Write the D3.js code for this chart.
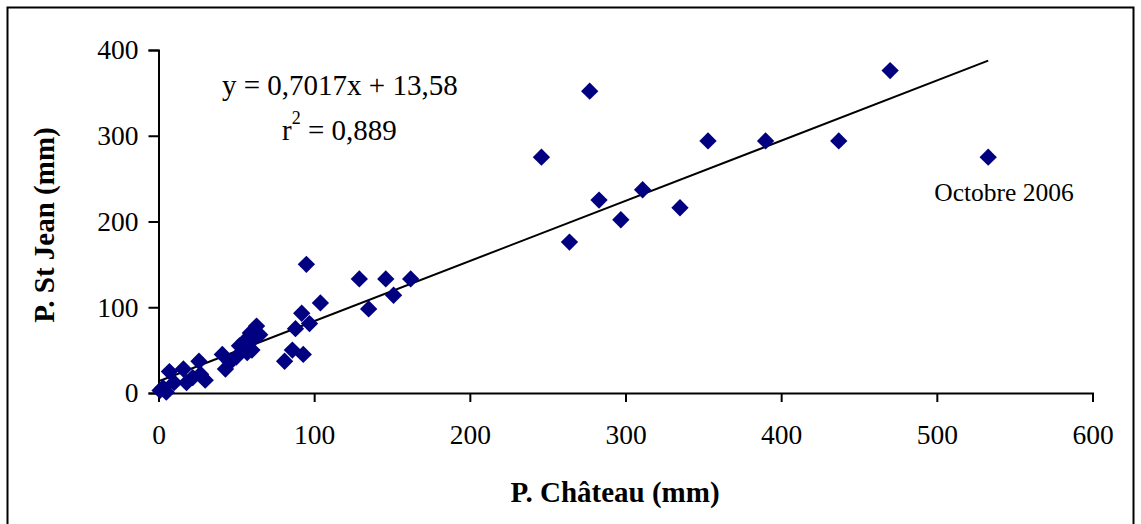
<!DOCTYPE html>
<html><head><meta charset="utf-8">
<script src="https://cdn.jsdelivr.net/npm/d3@7"></script>
<style>body{margin:0;background:#fff}svg{display:block}text{font-family:"Liberation Serif","Times New Roman",serif}</style>
</head><body>
<script>
const pChateau = [1,3,5,7,10,16,18,22,26,27,30,41,43,46,50,52,55,57,59,60,62,63,65,81,86,88,92,93,95,97,104,129,135,146,151,162,246,264,277,283,297,311,335,353,390,437,470,533];
const pStJean  = [3,6,1,25,12,28,12,18,37,22,15,45,28,36,42,55,60,47,70,50,65,78,68,37,50,75,93,45,150,81,105,133,98,133,114,133,275,176,352,225,202,237,216,294,294,294,376,275];
const xTicks = [0,100,200,300,400,500,600];
const yTicks = [0,100,200,300,400];
const slope = 0.7017, intercept = 13.58;
const eqLabel = "y = 0,7017x + 13,58";
const r2Value = "= 0,889";
const noteLabel = "Octobre 2006";
const xTitle = "P. Château (mm)";
const yTitle = "P. St Jean (mm)";

const W = 1141, H = 524;
const svg = d3.select("body").append("svg").attr("width", W).attr("height", H);
svg.append("rect").attr("x",7.5).attr("y",7.5).attr("width",1126).attr("height",530)
  .attr("fill","none").attr("stroke","#000").attr("stroke-width",2);

const x = d3.scaleLinear().domain([0,600]).range([158.5,1092.5]);
const y = d3.scaleLinear().domain([0,400]).range([393,50]);

const fs = 27.5;
const xAxis = svg.append("g").attr("transform","translate(0,393)")
  .call(d3.axisBottom(x).tickValues(xTicks).tickSize(9).tickPadding(22).tickFormat(d3.format("d")));
const yAxis = svg.append("g").attr("transform","translate(158.5,0)")
  .call(d3.axisLeft(y).tickValues(yTicks).tickSize(10).tickPadding(10).tickFormat(d3.format("d")));
[xAxis,yAxis].forEach(g=>{
  g.select(".domain").attr("stroke","#000").attr("stroke-width",2);
  g.selectAll(".tick line").attr("stroke","#000").attr("stroke-width",2);
  g.selectAll(".tick text").attr("fill","#000").style("font-family","'Liberation Serif',serif").style("font-size",fs+"px");
});

const xs = d3.extent(pChateau);
svg.append("line").attr("x1",x(xs[0])).attr("y1",y(slope*xs[0]+intercept))
  .attr("x2",x(xs[1])).attr("y2",y(slope*xs[1]+intercept))
  .attr("stroke","#000").attr("stroke-width",2);

const sym = d3.symbol().type(d3.symbolSquare).size(150);
svg.append("g").selectAll("path").data(pChateau.map((v,i)=>[v,pStJean[i]])).join("path")
  .attr("d",sym).attr("fill","#000080")
  .attr("transform",d=>`translate(${x(d[0])},${y(d[1])}) rotate(45)`);

svg.append("text").attr("x",222).attr("y",95).attr("font-size",29).text(eqLabel);
const r2 = svg.append("text").attr("x",282).attr("y",140).attr("font-size",29);
r2.append("tspan").text("r");
r2.append("tspan").attr("dy",-16).attr("font-size",18).text("2");
r2.append("tspan").attr("dy",16).text(" "+r2Value);

svg.append("text").attr("x",1004).attr("y",201).attr("text-anchor","middle").attr("font-size",25.5).text(noteLabel);

svg.append("text").attr("x",615).attr("y",502).attr("text-anchor","middle").attr("font-size",29).attr("font-weight","bold").text(xTitle);
svg.append("text").attr("transform","translate(54,225) rotate(-90)").attr("text-anchor","middle").attr("font-size",29).attr("font-weight","bold").text(yTitle);
</script>
</body></html>
